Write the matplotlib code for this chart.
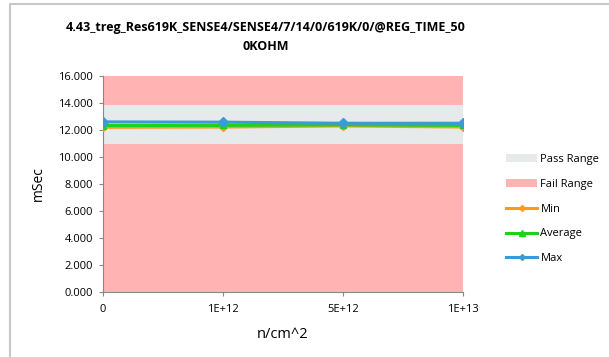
""" Line chart of REG_TIME vs fluence with pass/fail bands """

import matplotlib.pyplot as plt
from matplotlib.patches import Patch
from matplotlib.lines import Line2D

# Data
fluence_labels = ["0", "1E+12", "5E+12", "1E+13"]
min_vals = [12.20, 12.22, 12.30, 12.22]
avg_vals = [12.33, 12.34, 12.38, 12.34]
max_vals = [12.60, 12.58, 12.50, 12.50]
pass_low = 11.0
pass_high = 13.85
y_max = 16.0

title = "4.43_treg_Res619K_SENSE4/SENSE4/7/14/0/619K/0/@REG_TIME_50\n0KOHM"

plt.rcParams["font.family"] = ["Open Sans", "DejaVu Sans"]

fig = plt.figure(figsize=(6.09, 3.57), dpi=100)
ax = fig.add_axes([103 / 609, 1 - 292 / 357, 360 / 609, 216 / 357])

x = list(range(len(fluence_labels)))
fail_color = "#FFB3B3"
pass_color = "#E6EAEA"

# Bands (fail below, pass, fail above)
ax.fill_between([x[0], x[-1]], 0, pass_low, color=fail_color, lw=0)
ax.fill_between([x[0], x[-1]], pass_low, pass_high, color=pass_color, lw=0)
ax.fill_between([x[0], x[-1]], pass_high, y_max, color=fail_color, lw=0)

# Series
ax.plot(x, min_vals, color="#FF9A1A", lw=2.2, marker="D", ms=4, zorder=3)
ax.plot(x, avg_vals, color="#1FD11F", lw=2.2, marker="^", ms=5, zorder=4)
ax.plot(x, max_vals, color="#3C9AD6", lw=2.2, marker="D", ms=5, zorder=5)

ax.set_xlim(x[0], x[-1])
ax.set_ylim(0, y_max)
ax.set_yticks([i * 2 for i in range(9)])
ax.set_yticklabels([f"{i * 2:.3f}" for i in range(9)], fontsize=8)
ax.set_xticks(x)
ax.set_xticklabels(fluence_labels, fontsize=8)
ax.tick_params(axis="y", length=3, color="#888888", pad=4)
ax.tick_params(axis="x", length=3, color="#888888", pad=6)
for side in ["top", "right"]:
  ax.spines[side].set_visible(False)
ax.spines["left"].set_color("#888888")
ax.spines["bottom"].set_color("#888888")

ax.set_ylabel("mSec", fontsize=10, labelpad=9)
ax.set_xlabel("n/cm^2", fontsize=10.5, labelpad=8)

fig.text(266 / 609, 1 - 37 / 357, title, ha="center", va="center",
         fontsize=9, fontweight="bold", linespacing=1.6)

# Legend
handles = [
  Patch(facecolor=pass_color, edgecolor="none"),
  Patch(facecolor=fail_color, edgecolor="none"),
  Line2D([], [], color="#FF9A1A", lw=2.2, marker="D", ms=3),
  Line2D([], [], color="#1FD11F", lw=2.2, marker="^", ms=4),
  Line2D([], [], color="#3C9AD6", lw=2.2, marker="D", ms=3),
]
labels = ["Pass Range", "Fail Range", "Min", "Average", "Max"]
fig.legend(handles, labels, loc="center left", bbox_to_anchor=(496 / 609, 1 - 209 / 357),
           frameon=False, fontsize=8, handlelength=2.8, handletextpad=0.3,
           labelspacing=1.25)

# Chart frame
fig.add_artist(Line2D([10 / 609, 10 / 609, 1], [0, 1 - 4 / 357, 1 - 4 / 357],
                      color="#C8C8C8", lw=1.5, transform=fig.transFigure))

plt.savefig("out.png", dpi=100)
